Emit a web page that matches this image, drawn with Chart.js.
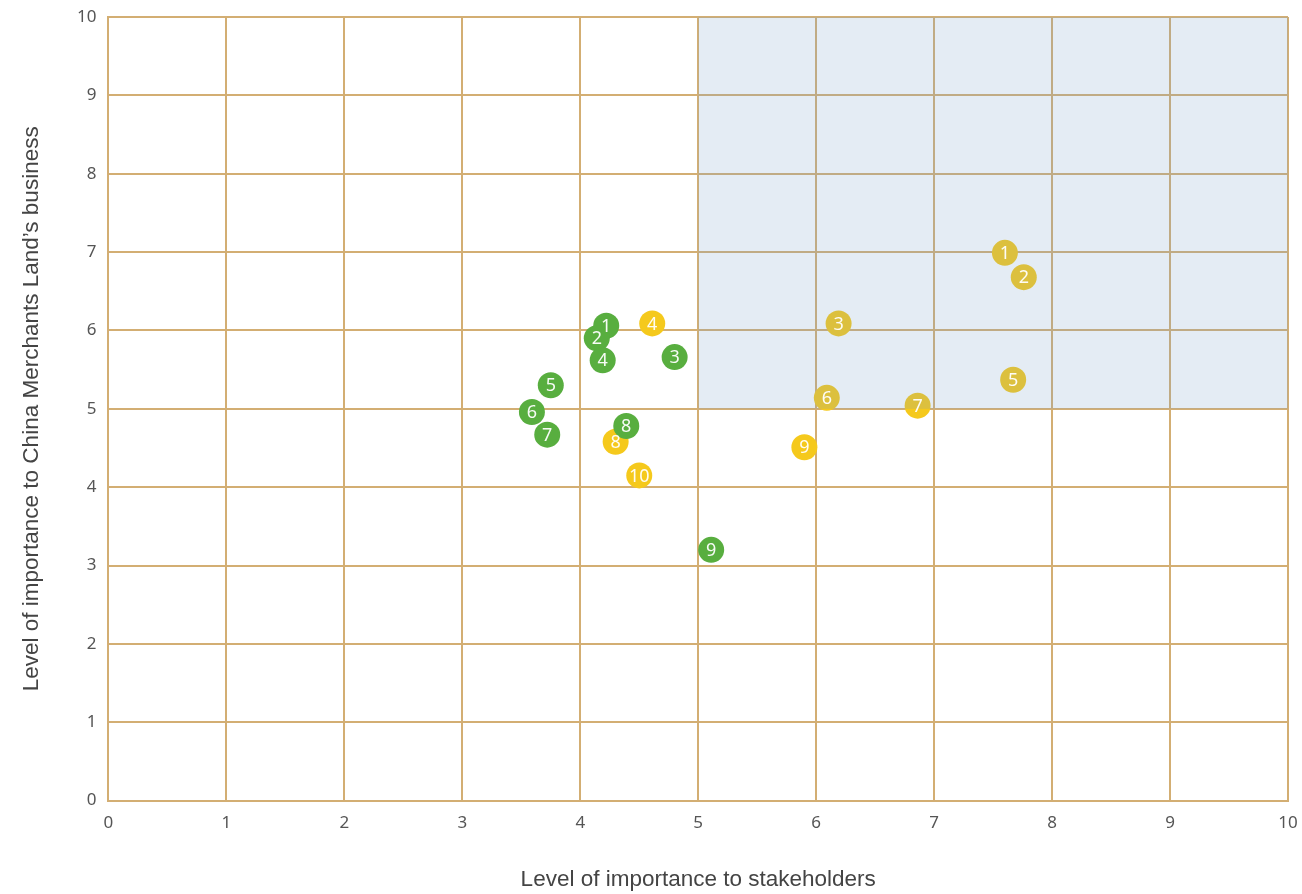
<!DOCTYPE html>
<html>
<head>
<meta charset="utf-8">
<script src="https://cdn.jsdelivr.net/npm/chart.js@4/dist/chart.umd.min.js"></script>
<style>
  html, body { margin: 0; padding: 0; background: #fff; }
  #wrap { width: 1302px; height: 894px; }
</style>
</head>
<body>
<div id="wrap"><canvas id="matrix" width="1302" height="894"></canvas></div>
<script>
// stakeholder importance (x) / business importance (y)
const greenX = [4.22, 4.14, 4.80, 4.19, 3.75, 3.59, 3.72, 4.39, 5.11];
const greenY = [6.06, 5.90, 5.66, 5.62, 5.30, 4.96, 4.67, 4.78, 3.20];
const greenLabels = ['1', '2', '3', '4', '5', '6', '7', '8', '9'];

const yellowX = [7.60, 7.76, 6.19, 4.61, 7.67, 6.09, 6.86, 4.30, 5.90, 4.50];
const yellowY = [6.99, 6.68, 6.09, 6.09, 5.37, 5.14, 5.04, 4.58, 4.51, 4.15];
const yellowLabels = ['1', '2', '3', '4', '5', '6', '7', '8', '9', '10'];

const tickValues = [0, 1, 2, 3, 4, 5, 6, 7, 8, 9, 10];
const focusX = [5, 10];
const focusY = [5, 10];

const gridColor = '#D3AE73';

const toPoints = (xs, ys) => xs.map((x, i) => ({ x: x, y: ys[i] }));

// light blue box over the high-importance quadrant
const focusBox = {
    id: 'focusBox',
    afterDatasetsDraw(chart) {
        const { ctx, scales } = chart;
        const x1 = scales.x.getPixelForValue(focusX[0]);
        const x2 = scales.x.getPixelForValue(focusX[1]);
        const y1 = scales.y.getPixelForValue(focusY[1]);
        const y2 = scales.y.getPixelForValue(focusY[0]);
        ctx.save();
        ctx.fillStyle = 'rgba(120, 160, 200, 0.2)';
        ctx.fillRect(x1, y1, x2 - x1, y2 - y1);
        ctx.restore();
    }
};

// numbers inside the dots
const dotLabels = {
    id: 'dotLabels',
    afterDraw(chart) {
        const { ctx } = chart;
        ctx.save();
        ctx.font = '18px "Noto Sans", sans-serif';
        ctx.fillStyle = 'rgba(255,255,255,0.95)';
        ctx.textAlign = 'center';
        ctx.textBaseline = 'middle';
        chart.data.datasets.forEach((ds, di) => {
            chart.getDatasetMeta(di).data.forEach((el, i) => {
                ctx.fillText(ds.labels[i], el.x, el.y + 1);
            });
        });
        ctx.restore();
    }
};

const ctx = document.getElementById('matrix').getContext('2d');
const matrixChart = new Chart(ctx, {
    type: 'scatter',
    data: {
        datasets: [{
            label: 'Green',
            labels: greenLabels,
            data: toPoints(greenX, greenY),
            backgroundColor: '#58AE3F',
            borderWidth: 0,
            pointRadius: 13,
            pointHoverRadius: 13
        }, {
            label: 'Yellow',
            labels: yellowLabels,
            data: toPoints(yellowX, yellowY),
            backgroundColor: '#F5C91C',
            borderWidth: 0,
            pointRadius: 13,
            pointHoverRadius: 13
        }]
    },
    options: {
        responsive: false,
        animation: false,
        layout: { padding: { top: 17, right: 14, bottom: 1, left: 18 } },
        plugins: {
            legend: { display: false },
            tooltip: { enabled: false }
        },
        scales: {
            x: {
                type: 'linear',
                min: 0,
                max: 10,
                afterBuildTicks: (axis) => { axis.ticks = tickValues.map(v => ({ value: v })); },
                afterFit: (axis) => { axis.paddingLeft = 0; axis.paddingRight = 0; },
                grid: { color: gridColor, lineWidth: 2, drawTicks: false },
                border: { color: gridColor, width: 2 },
                ticks: { color: '#555', font: { family: '"Noto Sans", sans-serif', size: 17 }, padding: 12 },
                title: {
                    display: true,
                    text: 'Level of importance to stakeholders',
                    color: '#444',
                    font: { family: '"Liberation Sans", Arial, sans-serif', size: 22.5 },
                    padding: { top: 21, bottom: 0 }
                }
            },
            y: {
                type: 'linear',
                min: 0,
                max: 10,
                afterBuildTicks: (axis) => { axis.ticks = tickValues.map(v => ({ value: v })); },
                afterFit: (axis) => { axis.paddingTop = 0; axis.paddingBottom = 0; },
                grid: { color: gridColor, lineWidth: 2, drawTicks: false },
                border: { color: gridColor, width: 2 },
                ticks: { color: '#555', font: { family: '"Noto Sans", sans-serif', size: 17 }, padding: 12 },
                title: {
                    display: true,
                    text: 'Level of importance to China Merchants Land’s business',
                    color: '#444',
                    font: { family: '"Liberation Sans", Arial, sans-serif', size: 22.5 },
                    padding: { top: 0, bottom: 20 }
                }
            }
        }
    },
    plugins: [focusBox, dotLabels]
});
</script>
</body>
</html>
